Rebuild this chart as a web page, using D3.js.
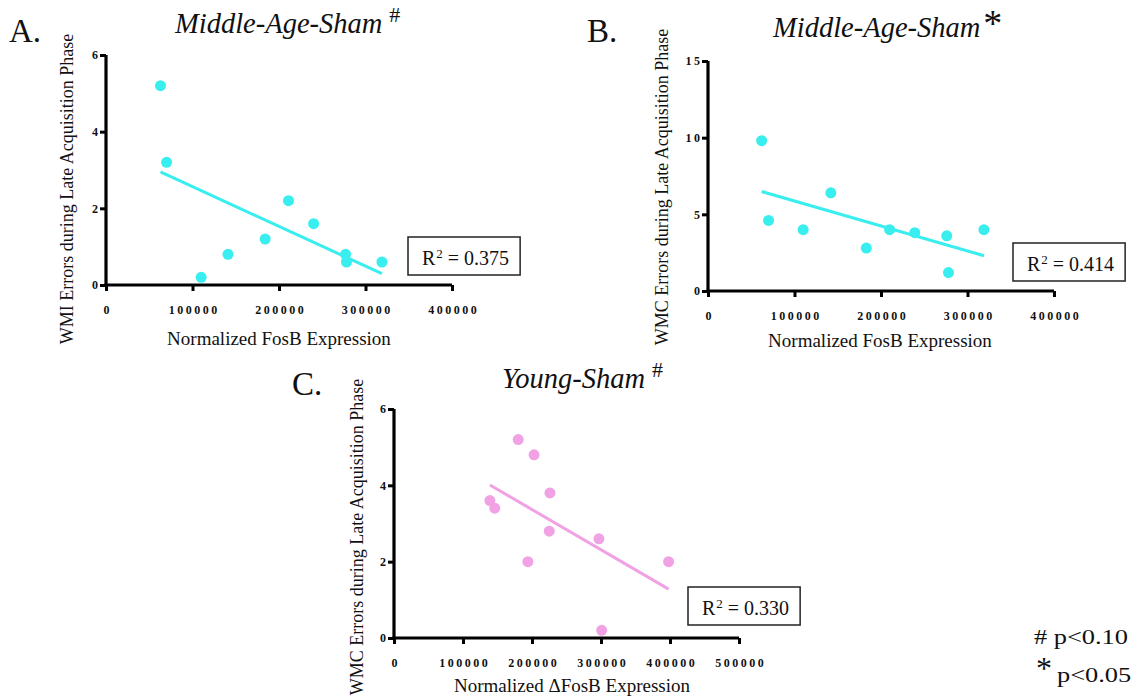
<!DOCTYPE html>
<html>
<head>
<meta charset="utf-8">
<script src="https://cdn.jsdelivr.net/npm/d3@7"></script>
<style>
  body { margin: 0; background: #fff; }
  text { font-family: "Liberation Serif", "Times New Roman", serif; fill: #111; }
  .tick-label { font-weight: bold; font-size: 12px; letter-spacing: 2.5px; }
</style>
</head>
<body>
<div id="chart"></div>
<script>
// Panel A: Middle-Age-Sham, WMI errors
const panelAX = [63000, 70000, 110000, 141000, 184000, 211000, 240000, 277000, 278000, 319000];
const panelAY = [5.2, 3.2, 0.2, 0.8, 1.2, 2.2, 1.6, 0.8, 0.6, 0.6];
// Panel B: Middle-Age-Sham, WMC errors
const panelBX = [62000, 70000, 110000, 142000, 183000, 210000, 239000, 276000, 278000, 319000];
const panelBY = [9.8, 4.6, 4.0, 6.4, 2.8, 4.0, 3.8, 3.6, 1.2, 4.0];
// Panel C: Young-Sham, WMC errors
const panelCX = [139000, 146000, 180000, 194000, 203000, 225000, 226000, 297000, 301000, 398000];
const panelCY = [3.6, 3.4, 5.2, 2.0, 4.8, 2.8, 3.8, 2.6, 0.2, 2.0];

const xTicksAB = [0, 100000, 200000, 300000, 400000];
const xTicksC = [0, 100000, 200000, 300000, 400000, 500000];
const yTicksA = [0, 2, 4, 6];
const yTicksB = [0, 5, 10, 15];
const yTicksC = [0, 2, 4, 6];

const r2Labels = ["0.375", "0.414", "0.330"];

const cyan = "#38eeee", pink = "#f0a2e4";

const svg = d3.select("#chart")
  .append("svg")
    .attr("width", 1139)
    .attr("height", 696);

function drawPanel(p) {
  const x = d3.scaleLinear().domain([0, p.xMax]).range([p.x0, p.x1]);
  const y = d3.scaleLinear().domain([0, p.yMax]).range([p.y0, p.y1]);
  const g = svg.append("g");

  // X axis
  const xa = g.append("g")
    .attr("transform", `translate(0,${p.y0})`)
    .call(d3.axisBottom(x).tickValues(p.xTicks).tickSize(6).tickFormat(d3.format("d")));
  xa.select(".domain").attr("stroke", "#000").attr("stroke-width", 3.2).attr("d", `M${p.x0 - 1.5},0H${p.x1}`);
  xa.selectAll(".tick line").attr("stroke", "#000").attr("stroke-width", 3);
  xa.selectAll(".tick text").attr("class", "tick-label").attr("y", 20).attr("dx", "1.25px");

  // Y axis
  const ya = g.append("g")
    .attr("transform", `translate(${p.x0},0)`)
    .call(d3.axisLeft(y).tickValues(p.yTicks).tickSize(6).tickFormat(d3.format("d")));
  ya.select(".domain").attr("stroke", "#000").attr("stroke-width", 3.2).attr("d", `M0,${p.y0 + 1.5}V${p.y1}`);
  ya.selectAll(".tick line").attr("stroke", "#000").attr("stroke-width", 3);
  ya.selectAll(".tick text").attr("class", "tick-label").attr("x", -8).attr("dx", "2.5px");

  // Regression line
  const n = p.xs.length;
  const mx = d3.mean(p.xs), my = d3.mean(p.ys);
  const slope = d3.sum(p.xs, (v, i) => (v - mx) * (p.ys[i] - my)) / d3.sum(p.xs, v => (v - mx) ** 2);
  const xl = d3.extent(p.xs);
  g.append("line")
    .attr("x1", x(xl[0])).attr("y1", y(my + slope * (xl[0] - mx)))
    .attr("x2", x(xl[1])).attr("y2", y(my + slope * (xl[1] - mx)))
    .attr("stroke", p.color).attr("stroke-width", 3);

  // Points
  g.selectAll("circle")
    .data(d3.range(n))
    .join("circle")
    .attr("cx", i => x(p.xs[i]))
    .attr("cy", i => y(p.ys[i]))
    .attr("r", 5.5)
    .attr("fill", p.color);

  // Panel letter
  g.append("text").attr("x", p.letterX).attr("y", p.letterY)
    .attr("font-size", 33).text(p.letter);

  // Title with superscript mark
  const t = g.append("text").attr("x", p.titleX).attr("y", p.titleY)
    .attr("font-size", 28.5).attr("font-style", "italic").text(p.title);
  const tw = t.node().getComputedTextLength();
  if (p.mark === "#") {
    g.append("text").attr("x", p.titleX + tw + 7).attr("y", p.titleY - 11)
      .attr("font-size", 22).text("#");
  } else {
    g.append("text").attr("x", p.titleX + tw + 3).attr("y", p.titleY - 1)
      .attr("font-size", 38).text("*");
  }

  // Axis titles
  g.append("text")
    .attr("transform", `translate(${p.yLabelX},${p.yLabelY}) rotate(-90)`)
    .attr("text-anchor", "middle").attr("font-size", 18).text(p.yLabel);
  g.append("text").attr("x", p.xLabelX).attr("y", p.xLabelY)
    .attr("text-anchor", "middle").attr("font-size", 19).text(p.xLabel);

  // R squared box
  const bx = g.append("rect")
    .attr("x", p.boxX).attr("y", p.boxY).attr("height", 38)
    .attr("fill", "#fff").attr("stroke", "#222").attr("stroke-width", 1.5);
  const rt = g.append("text").attr("x", p.boxX + 14).attr("y", p.boxY + 28).attr("font-size", 20);
  rt.append("tspan").text("R");
  rt.append("tspan").attr("font-size", 13).attr("dy", -7).attr("dx", 1).text("2");
  rt.append("tspan").attr("dy", 7).text(" = " + p.r2);
  bx.attr("width", rt.node().getComputedTextLength() + 26);
}

drawPanel({
  xs: panelAX, ys: panelAY, color: cyan,
  xMax: 400000, yMax: 6, xTicks: xTicksAB, yTicks: yTicksA,
  x0: 106, x1: 452, y0: 285, y1: 55,
  letter: "A.", letterX: 9, letterY: 42,
  title: "Middle-Age-Sham", mark: "#", titleX: 175, titleY: 33,
  yLabel: "WMI Errors during Late Acquisition Phase", yLabelX: 73, yLabelY: 189,
  xLabel: "Normalized FosB Expression", xLabelX: 279, xLabelY: 345,
  boxX: 408, boxY: 237, r2: r2Labels[0]
});

drawPanel({
  xs: panelBX, ys: panelBY, color: cyan,
  xMax: 400000, yMax: 15, xTicks: xTicksAB, yTicks: yTicksB,
  x0: 708, x1: 1054, y0: 291, y1: 61,
  letter: "B.", letterX: 587, letterY: 42,
  title: "Middle-Age-Sham", mark: "*", titleX: 773, titleY: 37,
  yLabel: "WMC Errors during Late Acquisition Phase", yLabelX: 668, yLabelY: 187,
  xLabel: "Normalized FosB Expression", xLabelX: 880, xLabelY: 347,
  boxX: 1013, boxY: 243, r2: r2Labels[1]
});

drawPanel({
  xs: panelCX, ys: panelCY, color: pink,
  xMax: 500000, yMax: 6, xTicks: xTicksC, yTicks: yTicksC,
  x0: 394, x1: 739, y0: 638, y1: 409,
  letter: "C.", letterX: 292, letterY: 395,
  title: "Young-Sham", mark: "#", titleX: 502, titleY: 388,
  yLabel: "WMC Errors during Late Acquisition Phase", yLabelX: 363, yLabelY: 537,
  xLabel: "Normalized \u0394FosB Expression", xLabelX: 572, xLabelY: 692,
  boxX: 688, boxY: 587, r2: r2Labels[2]
});

// Significance legend
const legend = svg.append("g");
legend.append("text").attr("x", 1034).attr("y", 644).attr("font-size", 22)
  .attr("transform", "translate(1034,0) scale(1.2,1) translate(-1034,0)").text("# p<0.10");
legend.append("text").attr("x", 1036).attr("y", 679).attr("font-size", 32).text("*");
legend.append("text").attr("x", 1057).attr("y", 682).attr("font-size", 22)
  .attr("transform", "translate(1057,0) scale(1.2,1) translate(-1057,0)").text("p<0.05");
</script>
</body>
</html>
